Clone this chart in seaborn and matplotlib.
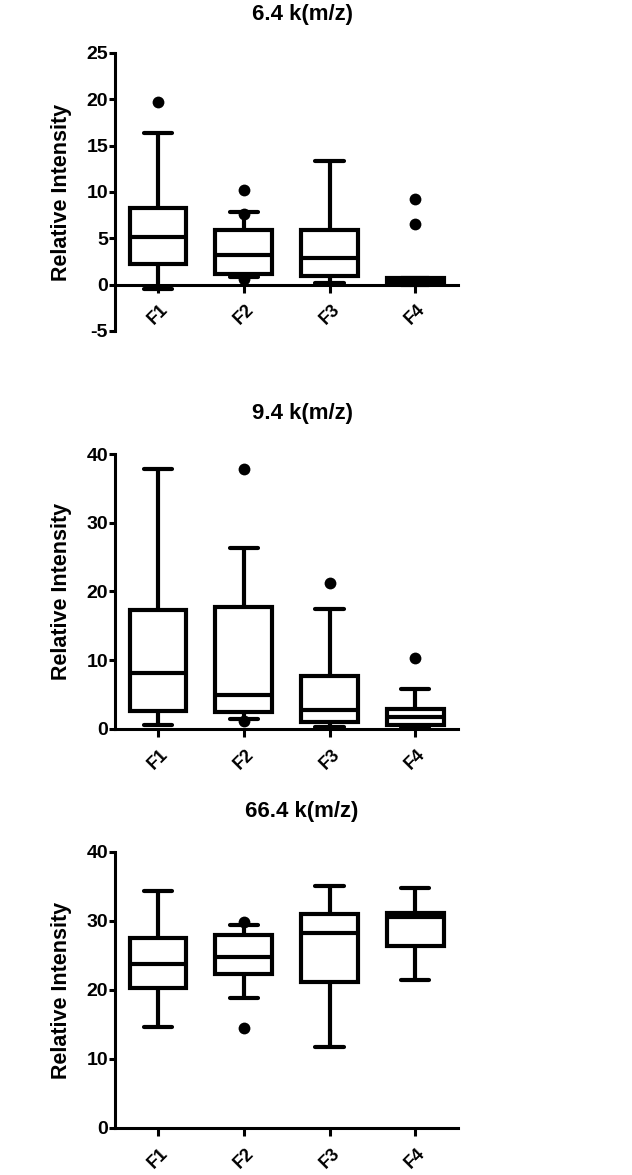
import pandas as pd
import matplotlib.pyplot as plt
import numpy as np
import seaborn as sns

# --- box summaries: [low whisker, Q1, median, Q3, high whisker] ---
groups = ["F1", "F2", "F3", "F4"]

titles = ["6.4 k(m/z)", "9.4 k(m/z)", "66.4 k(m/z)"]

box_64 = {
    "F1": [-0.45, 2.25, 5.15, 8.25, 16.4],
    "F2": [0.85, 1.2, 3.15, 5.9, 7.8],
    "F3": [0.2, 0.95, 2.9, 5.95, 13.3],
    "F4": [0.0, 0.05, 0.35, 0.7, 0.75],
}
box_94 = {
    "F1": [0.6, 2.55, 8.1, 17.3, 37.8],
    "F2": [1.45, 2.45, 5.0, 17.8, 26.3],
    "F3": [0.3, 0.95, 2.8, 7.65, 17.4],
    "F4": [0.15, 0.65, 1.75, 2.95, 5.8],
}
box_664 = {
    "F1": [14.7, 20.3, 23.8, 27.5, 34.4],
    "F2": [18.8, 22.3, 24.85, 28.0, 29.4],
    "F3": [11.7, 21.1, 28.2, 31.0, 35.0],
    "F4": [21.4, 26.4, 30.6, 31.1, 34.8],
}

# outlying points drawn as dots
out_64 = {"F1": [19.7], "F2": [10.2, 7.6, 0.6], "F3": [], "F4": [9.2, 6.5]}
out_94 = {"F1": [], "F2": [37.8, 1.1], "F3": [21.2], "F4": [10.3]}
out_664 = {"F1": [], "F2": [29.8, 14.5], "F3": [], "F4": []}

ylims = [(-5, 25), (0, 40), (0, 40)]
yticks = [[-5, 0, 5, 10, 15, 20, 25], [0, 10, 20, 30, 40], [0, 10, 20, 30, 40]]


def to_long(d):
    rows = [(g, v) for g in groups for v in d[g]]
    return pd.DataFrame(rows, columns=["group", "value"])


sns.set_style("ticks")
plt.rcParams["font.family"] = ["Liberation Sans", "DejaVu Sans"]
plt.rcParams["font.weight"] = "bold"
plt.rcParams["axes.unicode_minus"] = False
for key in ["text.color", "axes.labelcolor", "xtick.color", "ytick.color", "axes.edgecolor"]:
    plt.rcParams[key] = "black"

fig = plt.figure(figsize=(6.32, 11.75), dpi=100)

# axes rectangles (fig fraction) and title heights
rects = [
    [0.182, 0.7183, 0.543, 0.2366],
    [0.182, 0.3796, 0.543, 0.2340],
    [0.182, 0.0400, 0.543, 0.2349],
]
title_y = [0.988, 0.6485, 0.309]

panels = [(box_64, out_64), (box_94, out_94), (box_664, out_664)]

for i, (boxes, outs) in enumerate(panels):
    ax = fig.add_axes(rects[i])
    box_df = to_long(boxes)
    out_df = to_long(outs)

    sns.boxplot(data=box_df, x="group", y="value", order=groups, whis=(0, 100),
                width=0.66, color="white", linecolor="black", linewidth=3,
                showfliers=False, ax=ax)
    if len(out_df):
        sns.stripplot(data=out_df, x="group", y="value", order=groups,
                      jitter=False, color="black", size=8.5, ax=ax, zorder=5)

    ax.set_xlim(-0.5, 3.5)
    ax.set_ylim(*ylims[i])
    ax.set_yticks(yticks[i])
    sns.despine(ax=ax)
    ax.spines["left"].set_linewidth(2.2)
    ax.spines["bottom"].set_linewidth(2.2)
    if ylims[i][0] < 0:
        ax.spines["bottom"].set_position(("data", 0))

    ax.tick_params(axis="y", width=2.2, length=4, labelsize=14, pad=1)
    ax.tick_params(axis="x", width=2.2, length=6, labelsize=13, pad=6)
    for lab in ax.get_xticklabels():
        lab.set_rotation(45)
        lab.set_ha("center")
        lab.set_va("top")
        lab.set_fontweight("bold")
    for lab in ax.get_yticklabels():
        lab.set_fontweight("bold")

    ax.set_xlabel("")
    ax.set_ylabel("Relative Intensity", fontsize=15.5, fontweight="bold")
    ax.yaxis.set_label_coords(-0.125, 0.5)

    fig.text(0.478, title_y[i], titles[i], ha="center", va="center",
             fontsize=16, fontweight="bold")

fig.savefig("out.png", dpi=100)
